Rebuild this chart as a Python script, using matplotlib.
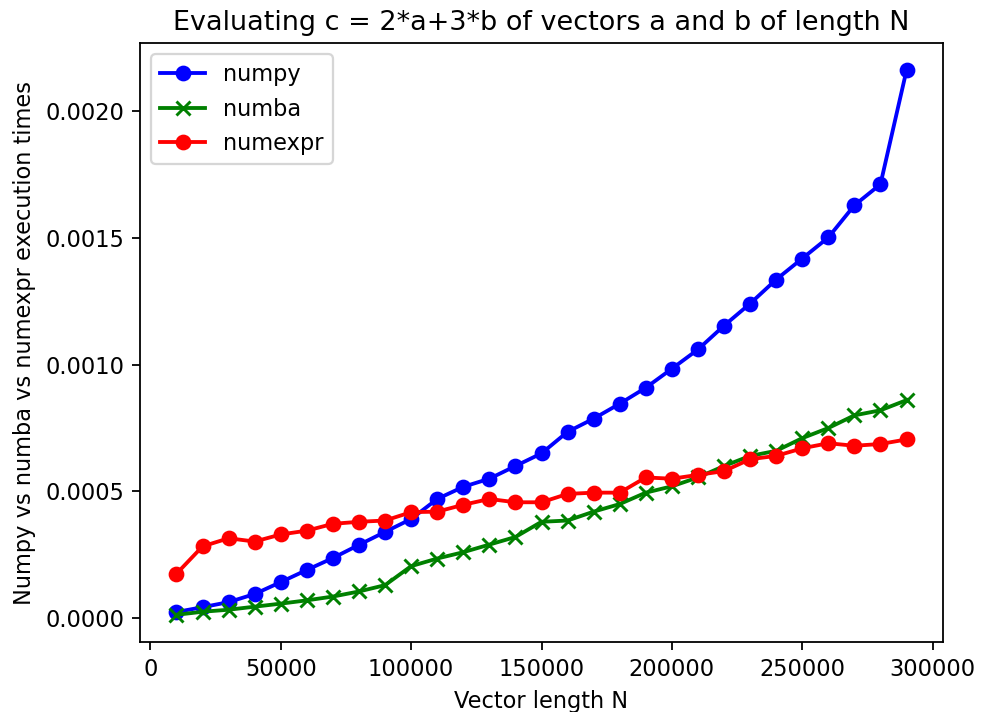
import numpy as np
import matplotlib
matplotlib.use("Agg")
import matplotlib.pyplot as plt

# vector lengths N
sizes = list(range(10000, 300000, 10000))

# execution times (seconds)
t_numpy = [0.000024, 0.000043, 0.000063, 0.000095, 0.000142, 0.000190, 0.000237,
           0.000289, 0.000340, 0.000391, 0.000470, 0.000518, 0.000550, 0.000600,
           0.000650, 0.000735, 0.000787, 0.000846, 0.000909, 0.000984, 0.001060,
           0.001154, 0.001241, 0.001336, 0.001419, 0.001502, 0.001629, 0.001712,
           0.002162]
t_numba = [0.000013, 0.000025, 0.000033, 0.000045, 0.000057, 0.000070, 0.000085,
           0.000105, 0.000130, 0.000205, 0.000235, 0.000260, 0.000290, 0.000320,
           0.000380, 0.000385, 0.000420, 0.000450, 0.000495, 0.000520, 0.000555,
           0.000600, 0.000640, 0.000660, 0.000710, 0.000750, 0.000800, 0.000820,
           0.000860]
t_numexpr = [0.000175, 0.000283, 0.000315, 0.000302, 0.000330, 0.000345, 0.000372,
             0.000380, 0.000385, 0.000418, 0.000420, 0.000447, 0.000470, 0.000457,
             0.000457, 0.000490, 0.000495, 0.000495, 0.000555, 0.000550, 0.000565,
             0.000580, 0.000627, 0.000640, 0.000670, 0.000690, 0.000680, 0.000687,
             0.000705]

DPI = 162
fig = plt.figure(figsize=(981 / DPI, 712 / DPI), dpi=DPI)
ax = fig.add_axes([0.1427, 0.0983, 0.8186, 0.8413])

ax.plot(sizes, t_numpy, "b-o", lw=1.7, label="numpy")
ax.plot(sizes, t_numba, "g-x", lw=1.7, mew=1.3, label="numba")
ax.plot(sizes, t_numexpr, "r-o", lw=1.7, label="numexpr")

ax.set_title("Evaluating c = 2*a+3*b of vectors a and b of length N")
ax.set_xlabel("Vector length N")
ax.set_ylabel("Numpy vs numba vs numexpr execution times")
ax.legend(loc="upper left")

fig.savefig("out.png", dpi=DPI)
